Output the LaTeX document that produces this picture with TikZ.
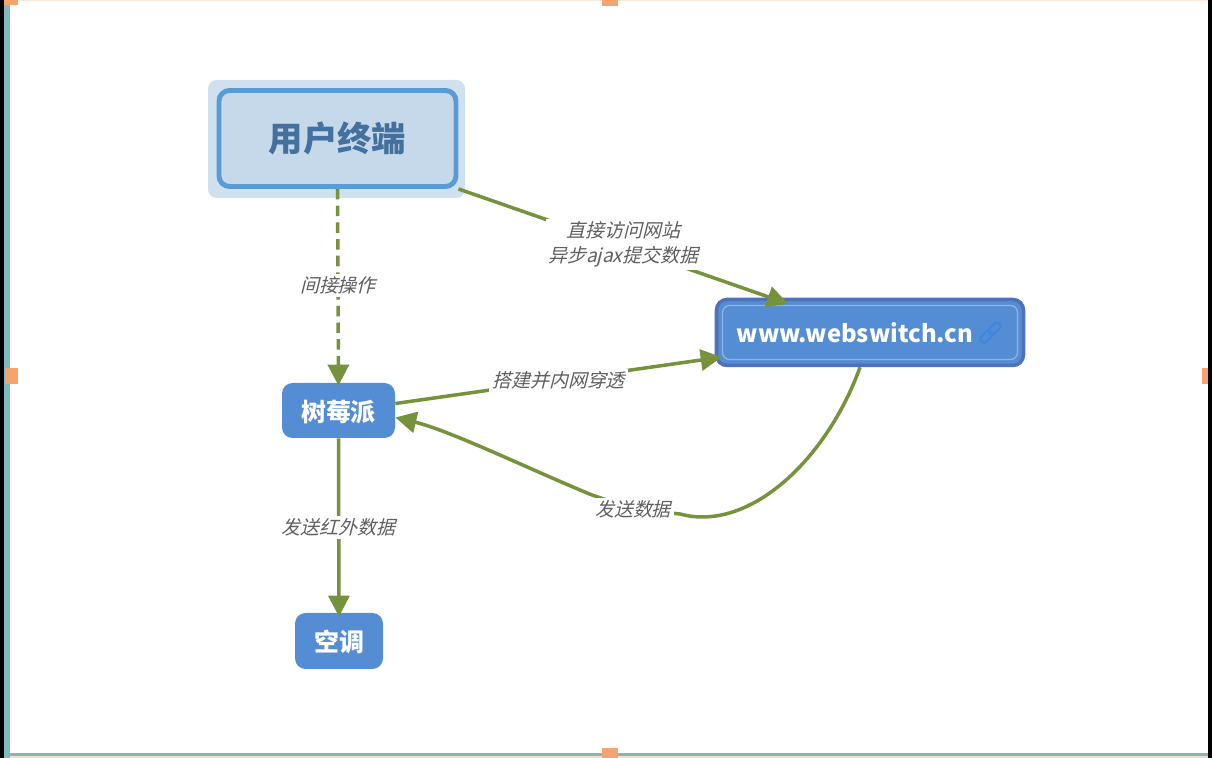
\documentclass[tikz,border=0pt]{standalone}
\usepackage{fontspec}
\setmainfont{Noto Sans CJK SC}
\newfontfamily\slantfont[FakeSlant=0.25]{Noto Sans CJK SC}
\usetikzlibrary{positioning, fit, calc, arrows.meta}
\definecolor{boxblue}{RGB}{85,141,212}
\definecolor{borderblue}{RGB}{79,113,186}
\definecolor{userfill}{RGB}{198,217,234}
\definecolor{userborder}{RGB}{91,155,213}
\definecolor{userhalo}{RGB}{207,224,238}
\definecolor{usertext}{RGB}{68,112,157}
\definecolor{linkgreen}{RGB}{118,146,60}
\definecolor{labelgray}{RGB}{95,95,95}
\definecolor{iconblue}{RGB}{64,134,224}
\definecolor{handleorange}{RGB}{244,164,110}
\definecolor{frameteal}{RGB}{128,186,186}
\tikzset{
    basebox/.style={
        align=center,
        inner sep=0pt,
        rounded corners=6pt
    },
    bluebox/.style={basebox, fill=boxblue, text=white, text depth=0pt, font=\fontsize{14.2}{17}\selectfont\bfseries},
    linklabel/.style={font=\fontsize{10.8}{14.2}\selectfont\slantfont, text=labelgray, fill=white, align=center, inner sep=1.5pt},
    greenarrow/.style={-{Triangle[length=4.2mm, width=4.2mm]}, line width=2pt, draw=linkgreen},
    greendashed/.style={greenarrow, dash pattern=on 6pt off 3.5pt},
    handlebox/.style={fill=handleorange, inner sep=0pt, outer sep=0pt},
    iconlink/.style={draw=iconblue, line width=1.2pt, rounded corners=1.5pt, minimum width=0.27cm, minimum height=0.14cm, inner sep=0pt, rotate=45}
}

\begin{document}
\begin{tikzpicture}

    \useasboundingbox (0, 0) rectangle (24.24, 15.16);

    % Marco de la captura
    \fill[black] (0, 0) rectangle (0.08, 15.16);
    \fill[frameteal] (0.08, 0) rectangle (0.2, 15.16);
    \fill[black] (24.16, 0) rectangle (24.24, 15.16);
    \fill[frameteal] (0.2, 0.04) rectangle (24.16, 0.1);
    \fill[handleorange!40] (0.2, 0) rectangle (24.16, 0.04);
    \fill[handleorange!25] (0.2, 15.14) rectangle (24.16, 15.16);

    % Tiradores
    \node[handlebox, minimum width=0.28cm, minimum height=0.1cm] (handlecorner) at (0.22, 15.11) {};
    \node[handlebox, minimum width=0.32cm, minimum height=0.12cm] (handletop) at (12.2, 15.1) {};
    \node[handlebox, minimum width=0.32cm, minimum height=0.2cm] (handlebottom) at (12.2, 0.1) {};
    \node[handlebox, minimum width=0.26cm, minimum height=0.32cm] (handleleft) at (0.23, 7.64) {};
    \node[handlebox, minimum width=0.12cm, minimum height=0.32cm] (handleright) at (24.1, 7.64) {};

    % Nodos
    \node[basebox, fill=userhalo, rounded corners=5pt, minimum width=5.14cm, minimum height=2.36cm] (userhalo) at (6.73, 12.38) {};
    \node[basebox, fill=userfill, draw=userborder, line width=2.8pt, text=usertext, font=\fontsize{19.6}{23}\selectfont\bfseries, minimum width=4.74cm, minimum height=1.92cm] (user) at (6.75, 12.39) {用户终端};
    \node[bluebox, minimum width=2.26cm, minimum height=1.1cm] (raspi) at (6.77, 6.95) {树莓派};
    \node[bluebox, minimum width=1.76cm, minimum height=1.12cm] (aircon) at (6.78, 2.34) {空调};

    \node[basebox, fill=boxblue, draw=borderblue, line width=2pt, minimum width=6.14cm, minimum height=1.32cm] (web) at (17.4, 8.51) {};
    \node[basebox, draw=white, opacity=0.35, line width=0.7pt, rounded corners=4pt, minimum width=5.9cm, minimum height=1.08cm] (webinner) at (17.4, 8.51) {};
    \node[font=\fontsize{13.6}{16}\selectfont\bfseries, text=white, inner sep=0pt] (webtext) at (17.1, 8.51) {www.webswitch.cn};
    \node[iconlink] (iconhigh) at (19.89, 8.59) {};
    \node[iconlink] (iconlow) at (19.73, 8.43) {};

    % Conexiones
    \draw[greendashed] (user.south) -- node[linklabel, pos=0.49] {间接操作} ([yshift=-0.06cm]raspi.north);
    \draw[greenarrow] (user.south east) -- node[linklabel, yshift=0.04cm] {直接访问网站\\异步ajax提交数据} ([yshift=-0.12cm]web.157);
    \draw[greenarrow] (raspi.7) -- node[linklabel] {搭建并内网穿透} ([xshift=0.14cm]web.189);
    \coordinate (sendpoint) at (12.66, 4.98);
    \draw[greenarrow] (web.254) .. controls (16.55, 6.0) and (15.0, 4.5) .. (13.6, 4.88) -- (sendpoint) node[linklabel] {发送数据} -- (11.84, 5.26) .. controls (10.6, 5.77) and (9.0, 6.55) .. (raspi.-7);
    \draw[greenarrow] (raspi.south) -- node[linklabel] {发送红外数据} ([yshift=-0.08cm]aircon.north);

\end{tikzpicture}
\end{document}
